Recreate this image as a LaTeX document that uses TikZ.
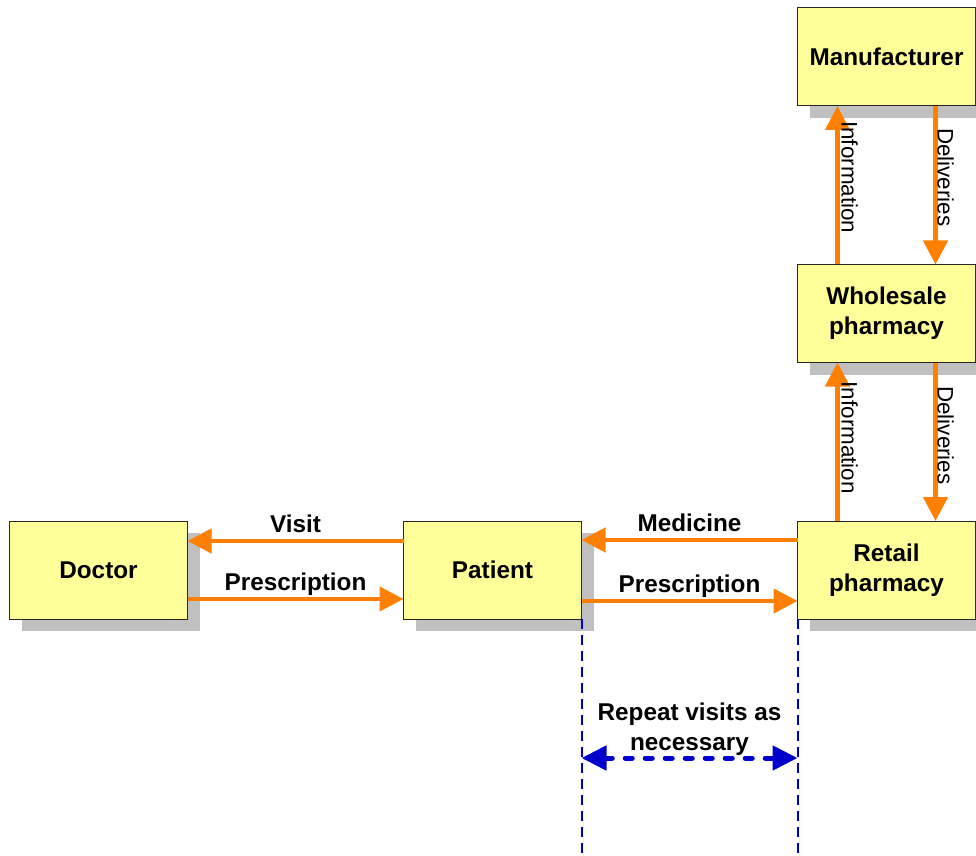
\documentclass[tikz,border=0pt]{standalone}
\usepackage{fontspec}
\setmainfont{Liberation Sans}
\usetikzlibrary{arrows.meta,shadows}
\definecolor{boxfill}{HTML}{FFFF99}
\definecolor{shadowgray}{HTML}{C0C0C0}
\definecolor{flowcol}{HTML}{FF8000}
\definecolor{repblue}{HTML}{0000CC}
\begin{document}
\begin{tikzpicture}[x=0.5pt,y=-0.5pt,
  box/.style={draw=black!85, line width=0.5pt, fill=boxfill, minimum width=89pt, minimum height=49pt, inner sep=0pt, outer sep=0pt, align=center, font=\bfseries\fontsize{12.15}{15}\selectfont, drop shadow={shadow xshift=6pt, shadow yshift=-6pt, fill=shadowgray, opacity=1}},
  flow/.style={color=flowcol, line width=2.25pt, -{Triangle[length=12pt,width=12pt]}},
  lbl/.style={anchor=base, yshift=4.5pt, text=black, font=\bfseries\fontsize{12.15}{15}\selectfont},
  vlbl/.style={anchor=base, text=black, inner sep=0pt, font=\fontsize{11.2}{13}\selectfont},
  guide/.style={color=repblue, line width=1pt, dash pattern=on 5pt off 3pt},
  repeatline/.style={color=repblue, line width=2.5pt, line cap=round, dash pattern=on 3.5pt off 6.5pt, {Triangle[length=12.5pt,width=12pt]}-{Triangle[length=12.5pt,width=12pt]}}]
\useasboundingbox (0,0) rectangle (976,856);
\node[box] (doctor) at (98.5,570){Doctor};
\node[box] (patient) at (492.5,570){Patient};
\node[box] (retail) at (886.5,570){Retail\\pharmacy};
\node[box] (wholesale) at (886.5,313.5){Wholesale\\pharmacy};
\node[box] (manufacturer) at (886.5,57){Manufacturer};
\draw[flow] ([yshift=14.5pt]patient.west) -- ([yshift=14.5pt]doctor.east) node[lbl, midway]{Visit};
\draw[flow] ([yshift=-14.5pt]doctor.east) -- ([yshift=-14.5pt]patient.west) node[lbl, midway]{Prescription};
\draw[flow] ([yshift=15pt]retail.west) -- ([yshift=15pt]patient.east) node[lbl, midway]{Medicine};
\draw[flow] ([yshift=-15.5pt]patient.east) -- ([yshift=-15.5pt]retail.west) node[lbl, midway]{Prescription};
\draw[flow] ([xshift=-24.5pt]retail.north) -- ([xshift=-24.5pt]wholesale.south) node[vlbl, pos=0.525, xshift=2pt, rotate=-90]{Information};
\draw[flow] ([xshift=24.5pt]wholesale.south) -- ([xshift=24.5pt]retail.north) node[vlbl, pos=0.46, xshift=1pt, rotate=-90]{Deliveries};
\draw[flow] ([xshift=-24.5pt]wholesale.north) -- ([xshift=-24.5pt]manufacturer.south) node[vlbl, pos=0.55, xshift=2pt, rotate=-90]{Information};
\draw[flow] ([xshift=24.5pt]manufacturer.south) -- ([xshift=24.5pt]wholesale.north) node[vlbl, pos=0.45, xshift=1pt, rotate=-90]{Deliveries};
\coordinate (pbot) at (581.5,856);
\coordinate (rbot) at (797.5,856);
\draw[guide] (patient.south east) -- (pbot);
\draw[guide] (retail.south west) -- (rbot);
\coordinate (rl) at (581.5,758);
\coordinate (rr) at (797.5,758);
\draw[repeatline] (rl) -- (rr) node[midway, anchor=south, inner sep=0pt, yshift=0pt, align=center, text=black, font=\bfseries\fontsize{12.15}{15}\selectfont]{Repeat visits as\\necessary};
\end{tikzpicture}
\end{document}
